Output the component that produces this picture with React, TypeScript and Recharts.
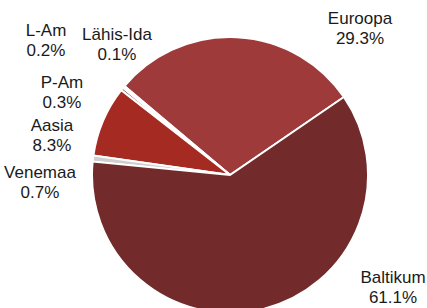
import { Cell, Pie, PieChart } from "recharts";

const regions = ["Euroopa", "Lähis-Ida", "L-Am", "P-Am", "Aasia", "Venemaa", "Baltikum"];
const shares = [29.3, 0.1, 0.2, 0.3, 8.3, 0.7, 61.1];
const colors = ["#9E3A39", "#E6C9C0", "#B4574F", "#4A1616", "#A52A22", "#CFCFCF", "#732A2B"];

const data = regions.map((name, i) => ({ name, value: shares[i] }));

// label anchor (center of the two text lines), relative to the pie center
const labelSpot: Record<string, [number, number]> = {
  Euroopa: [130, -147],
  "Lähis-Ida": [-113, -131],
  "L-Am": [-184, -135],
  "P-Am": [-168, -83],
  Aasia: [-178, -40],
  Venemaa: [-190, 7],
  Baltikum: [163, 112],
};

const CX = 230;
const CY = 175;

function renderLabel(props: any) {
  const { name, value } = props;
  const [dx, dy] = labelSpot[name];
  const x = CX + dx;
  const y = CY + dy;
  return (
    <text
      x={x}
      y={y}
      textAnchor="middle"
      fill="#1a1a1a"
      fontSize={17}
      fontFamily="'Liberation Sans', Arial, sans-serif"
    >
      <tspan x={x} dy={-4}>{name}</tspan>
      <tspan x={x} dy={20}>{value.toFixed(1)}%</tspan>
    </text>
  );
}

export default function App() {
  return (
    <div style={{ width: 427, height: 308, background: "#fff" }}>
      <style>{`body{margin:0}`}</style>
      <PieChart width={427} height={308} margin={{ top: 0, right: 0, bottom: 0, left: 0 }}>
        <Pie
          data={data}
          dataKey="value"
          nameKey="name"
          cx={CX}
          cy={CY}
          outerRadius={138}
          startAngle={34.4}
          endAngle={394.4}
          stroke="#fff"
          strokeWidth={2}
          label={renderLabel}
          labelLine={false}
          isAnimationActive={false}
        >
          {data.map((d, i) => (
            <Cell key={d.name} fill={colors[i]} />
          ))}
        </Pie>
      </PieChart>
    </div>
  );
}
